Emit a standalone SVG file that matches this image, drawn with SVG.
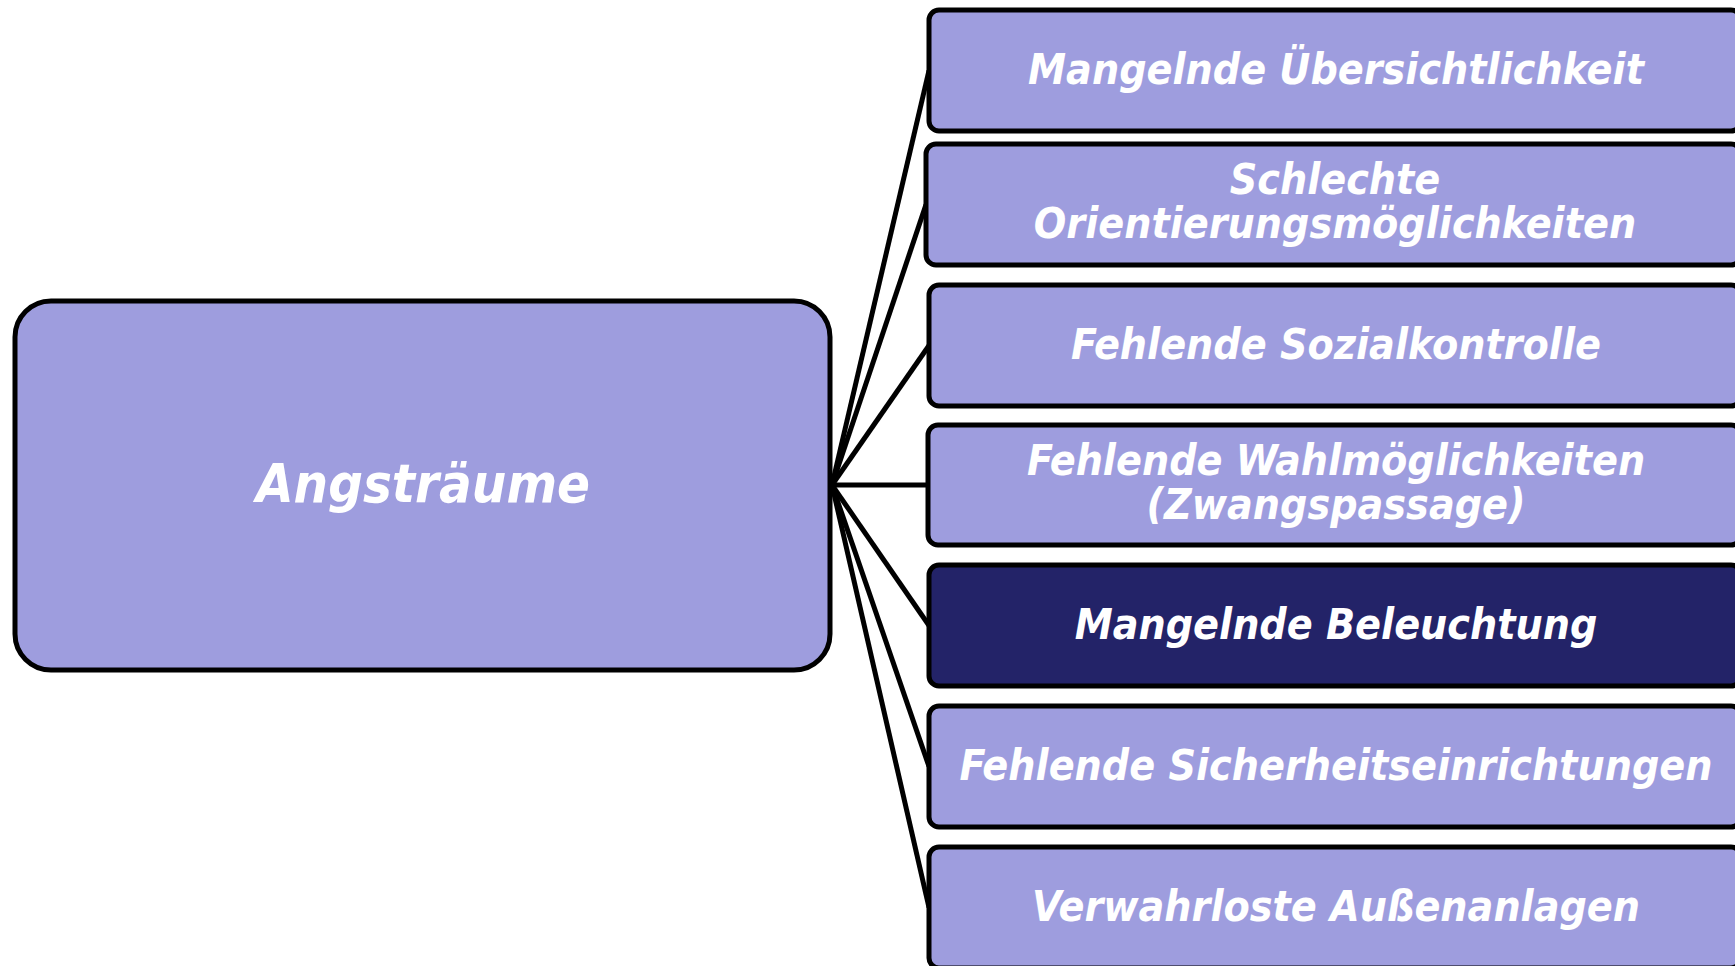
<svg xmlns="http://www.w3.org/2000/svg" width="1735" height="966" viewBox="0 0 1735 966">
<style>
.box{fill:#9e9dde;stroke:#000;stroke-width:5}
.dark{fill:#232368}
.t{fill:#fff;font-family:'DejaVu Sans Condensed','DejaVu Sans',sans-serif;font-stretch:condensed;font-weight:bold;font-style:italic;font-size:42.5px;text-anchor:middle}
.big{font-size:54px}
.c{stroke:#000;stroke-width:5;fill:none}
</style>
<rect width="1735" height="966" fill="#fff"/>
<g id="connectors">
<line class="c" x1="832" y1="485" x2="929" y2="70.5"/>
<line class="c" x1="832" y1="485" x2="926" y2="204.5"/>
<line class="c" x1="832" y1="485" x2="929" y2="345.5"/>
<line class="c" x1="832" y1="485" x2="928" y2="485"/>
<line class="c" x1="832" y1="485" x2="929" y2="625.5"/>
<line class="c" x1="832" y1="485" x2="929" y2="766.5"/>
<line class="c" x1="832" y1="485" x2="929" y2="907.5"/>
</g>
<g id="root">
<rect class="box" x="15" y="301" width="815" height="369" rx="36"/>
<text class="t big" x="423" y="502">Angsträume</text>
</g>
<g id="n1">
<rect class="box" x="929" y="10" width="812" height="121" rx="10"/>
<text class="t" x="1336" y="84">Mangelnde Übersichtlichkeit</text>
</g>
<g id="n2">
<rect class="box" x="926" y="144" width="815" height="121" rx="10"/>
<text class="t" x="1335" y="194">Schlechte</text>
<text class="t" x="1335" y="238">Orientierungsmöglichkeiten</text>
</g>
<g id="n3">
<rect class="box" x="929" y="285" width="812" height="121" rx="10"/>
<text class="t" x="1336" y="359">Fehlende Sozialkontrolle</text>
</g>
<g id="n4">
<rect class="box" x="928" y="425" width="813" height="120" rx="10"/>
<text class="t" x="1336" y="475">Fehlende Wahlmöglichkeiten</text>
<text class="t" x="1336" y="519">(Zwangspassage)</text>
</g>
<g id="n5">
<rect class="box dark" x="929" y="565" width="812" height="121" rx="10"/>
<text class="t" x="1336" y="639">Mangelnde Beleuchtung</text>
</g>
<g id="n6">
<rect class="box" x="929" y="706" width="812" height="121" rx="10"/>
<text class="t" x="1336" y="780">Fehlende Sicherheitseinrichtungen</text>
</g>
<g id="n7">
<rect class="box" x="929" y="847" width="812" height="121" rx="10"/>
<text class="t" x="1336" y="921">Verwahrloste Außenanlagen</text>
</g>
</svg>
